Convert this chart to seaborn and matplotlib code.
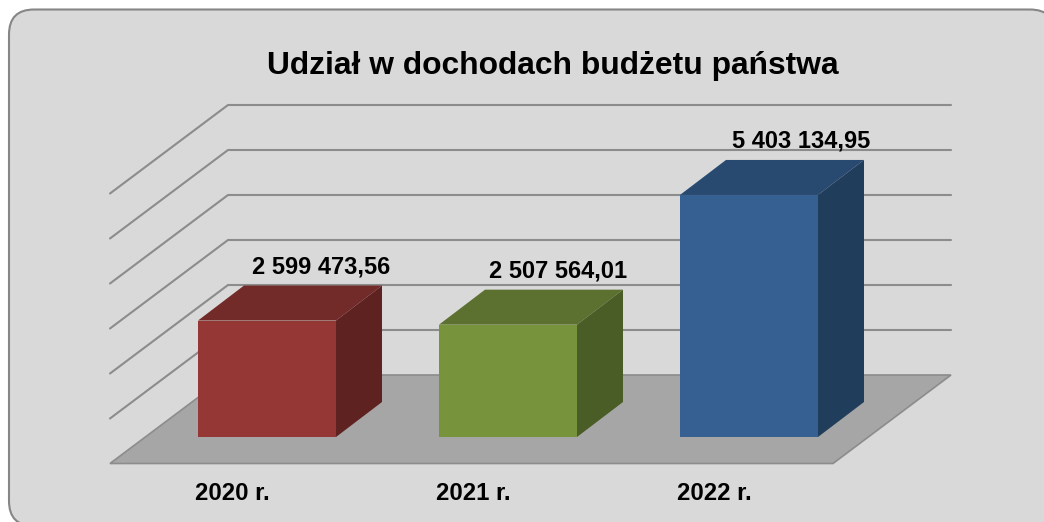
import matplotlib
import numpy as np
import pandas as pd
import seaborn as sns
from matplotlib import pyplot as plt
from matplotlib.patches import FancyBboxPatch, Polygon
matplotlib.use('Agg')

years = ["2020 r.", "2021 r.", "2022 r."]
values = [2599473.56, 2507564.01, 5403134.95]
value_labels = ["2 599 473,56", "2 507 564,01", "5 403 134,95"]
grid_values = [1000000, 2000000, 3000000, 4000000, 5000000, 6000000]
front_colors = ["#953735", "#77933C", "#376092"]
top_colors = ["#722B29", "#5C712F", "#294A70"]
side_colors = ["#5E2220", "#4B5D27", "#213D5C"]

W, H = 1044, 522
PX_X = 241.0      # pixels per category
PX_Y = 44.8e-6    # pixels per unit of value
ORIGIN_X, ORIGIN_Y = 267.0, 85.0  # pixel position of first bar centre / baseline

# depth directions in data units
def dx(px):
    return px / PX_X

def dy(px):
    return px / PX_Y

sns.set_theme(style="white")
plt.rcParams['font.family'] = ['Liberation Sans', 'DejaVu Sans']

fig = plt.figure(figsize=(W / 100, H / 100), dpi=100, facecolor="white")

# background panel in pixels, runs off the right and bottom edges
panel = FancyBboxPatch((34, 21), 996, 466.5, boxstyle="round,pad=25,rounding_size=25",
                       transform=None, facecolor="#D9D9D9", edgecolor="#868686", linewidth=1.5, zorder=0)
fig.patches.append(panel)

ax = fig.add_axes([0, 0, 1, 1])
ax.set_zorder(1)

data = pd.DataFrame({"year": years, "value": values})
sns.barplot(data=data, x="year", y="value", hue="year", palette=front_colors, legend=False,
            width=138 / PX_X, saturation=1, linewidth=0, edgecolor="none", ax=ax, zorder=4)
bars = list(ax.patches)
ax.set_xlim(-ORIGIN_X / PX_X, (W - ORIGIN_X) / PX_X)
ax.set_ylim(-ORIGIN_Y / PX_Y, (H - ORIGIN_Y) / PX_Y)
ax.axis("off")

# floor and back wall lines
left = -0.5
right = 2.5
front = (dx(-36.5), dy(-26.5))
back = (dx(81.5), dy(62))
floor = [(left + front[0], front[1]), (right + front[0], front[1]),
         (right + back[0], back[1]), (left + back[0], back[1])]
ax.add_patch(Polygon(floor, closed=True, facecolor="#A6A6A6", edgecolor="#8C8C8C", linewidth=1.2, zorder=1))
for g in grid_values:
    ax.plot([left + front[0], left + back[0], right + back[0]],
            [front[1] + g * 45 / 44.8, back[1] + g * 45 / 44.8, back[1] + g * 45 / 44.8],
            color="#8C8C8C", linewidth=1.5, solid_joinstyle="miter", zorder=2)

# fake 3d faces of each bar
depth_x, depth_y = dx(46), dy(35)
label_shift = [54.5, 50, 52]
for bar, top_c, side_c, lab, shift in zip(bars, top_colors, side_colors, value_labels, label_shift):
    x0, x1 = bar.get_x(), bar.get_x() + bar.get_width()
    h = bar.get_height()
    ax.add_patch(Polygon([(x0, h), (x1, h), (x1 + depth_x, h + depth_y), (x0 + depth_x, h + depth_y)],
                         closed=True, facecolor=top_c, edgecolor="none", zorder=3))
    ax.add_patch(Polygon([(x1, 0), (x1 + depth_x, depth_y), (x1 + depth_x, h + depth_y), (x1, h)],
                         closed=True, facecolor=side_c, edgecolor="none", zorder=3))
    ax.text((x0 + x1) / 2 + dx(shift), h + depth_y + dy(19), lab, ha="center", va="center",
            fontsize=17, fontweight="bold", color="black", zorder=5)

# category labels sit under the front floor edge
for i, y in enumerate(years):
    ax.text(i + front[0] + dx(1.5), front[1] + dy(-30.5), y, ha="center", va="center",
            fontsize=17.2, fontweight="bold", color="black")

fig.text(552.5 / W, 1 - 66 / H, "Udział w dochodach budżetu państwa", ha="center", va="center",
         fontsize=22.9, fontweight="bold", color="black")

plt.savefig("out.png", dpi=100)
plt.close()
